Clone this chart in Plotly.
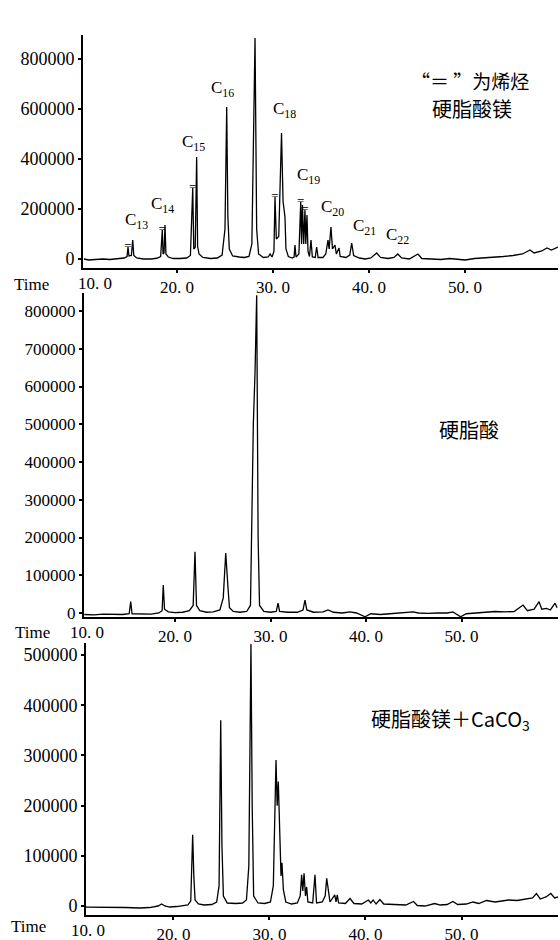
import plotly.graph_objects as go

# ---------------- data ----------------
# Panel 1: 硬脂酸镁 (retention time, min ; abundance)
t1 = [10.3, 10.8, 11.5, 12.3, 13.0, 13.8, 14.5, 14.8, 14.9, 15.0, 15.25, 15.39, 15.5, 15.8,
      16.5, 17.3, 17.9, 18.3, 18.47, 18.55, 18.65, 18.75, 18.85, 19.1, 19.6, 20.3, 21.0, 21.4,
      21.64, 21.75, 21.9, 22.05, 22.15, 22.3, 22.7, 23.5, 24.2, 24.7, 25.0, 25.18, 25.3, 25.45,
      25.8, 26.5, 27.0, 27.5, 27.8, 28.13, 28.3, 28.5, 29.0, 29.5, 29.7, 29.9, 30.1, 30.21,
      30.35, 30.6, 30.89, 31.05, 31.25, 31.35, 31.6, 32.0, 32.2, 32.29, 32.4, 32.7, 32.89,
      32.98, 33.07, 33.2, 33.33, 33.42, 33.54, 33.65, 33.8, 33.96, 34.1, 34.4, 34.55, 34.7,
      35.2, 35.5, 35.73, 35.85, 36.04, 36.2, 36.46, 36.6, 36.88, 37.0, 37.6, 38.0, 38.2, 38.4,
      39.0, 39.6, 40.2, 40.8, 41.2, 42.0, 42.6, 43.0, 43.4, 44.2, 45.1, 45.5, 46.5, 47.5, 48.4,
      49.0, 50.0, 51.0, 52.0, 53.0, 54.0, 55.0, 56.0, 56.77, 57.2, 58.0, 58.54, 59.0, 59.69]
s1 = [0, -4000, -2000, 0, -2000, 0, 4000, 10000, 48000, 12000, 14000, 76000, 14000, 4000,
      0, 0, 3000, 10000, 116000, 20000, 24000, 136000, 20000, 8000, 2000, 2000, 4000, 14000,
      284000, 40000, 46000, 408000, 50000, 20000, 6000, 2000, 4000, 16000, 120000, 608000, 170000, 40000,
      12000, 8000, 6000, 10000, 60000, 884000, 120000, 20000, 6000, 8000, 20000, 8000, 30000, 248000,
      80000, 90000, 504000, 230000, 168000, 40000, 10000, 4000, 8000, 56000, 8000, 20000, 228000,
      60000, 216000, 60000, 196000, 60000, 176000, 30000, 10000, 76000, 8000, 6000, 48000, 6000,
      6000, 20000, 76000, 40000, 128000, 40000, 56000, 20000, 44000, 10000, 6000, 16000, 64000, 14000,
      4000, 0, 4000, 24000, 6000, 2000, 6000, 20000, 4000, 0, 20000, 2000, 0, -2000, 2000,
      0, -4000, 2000, 4000, 6000, 10000, 14000, 20000, 36000, 24000, 32000, 44000, 36000, 48000]
olefin_t1 = [14.9, 18.47, 21.64, 30.21, 32.89, 33.33]
olefin_v1 = [48000, 116000, 284000, 248000, 228000, 196000]
peak_names = ["C<sub>13</sub>", "C<sub>14</sub>", "C<sub>15</sub>", "C<sub>16</sub>", "C<sub>17</sub>",
              "C<sub>18</sub>", "C<sub>19</sub>", "C<sub>20</sub>", "C<sub>21</sub>", "C<sub>22</sub>"]
peak_label_t = [15.83, 18.54, 21.67, 24.69, 28.33, 31.25, 33.65, 36.25, 39.58, 43.02]
peak_label_v = [154000, 216000, 466000, 680000, 946000, 596000, 332000, 204000, 130000, 94000]

# Panel 2: 硬脂酸
t2 = [10.5, 11.5, 12.5, 13.5, 14.5, 15.2, 15.36, 15.5, 16.5, 17.5, 18.3, 18.65, 18.77, 18.9,
      19.3, 20.0, 20.8, 21.5, 21.9, 22.09, 22.25, 22.6, 23.3, 24.0, 24.7, 25.05, 25.31, 25.45,
      25.55, 25.7, 26.1, 26.8, 27.5, 27.9, 28.2, 28.38, 28.55, 28.7, 28.85, 29.3, 30.0, 30.6,
      30.79, 30.95, 31.8, 32.8, 33.4, 33.61, 33.8, 34.5, 35.5, 36.02, 36.6, 37.5, 38.32, 39.0,
      39.9, 40.5, 41.5, 42.5, 43.5, 44.92, 45.5, 46.5, 47.5, 48.5, 49.1, 49.9, 50.5, 51.5, 52.5,
      53.5, 54.5, 55.5, 56.44, 56.9, 57.6, 58.12, 58.4, 58.9, 59.3, 59.79, 60.0]
s2 = [-4000, -5000, -3000, -3000, -4000, -2000, 30000, -2000, -3000, -3000, 0, 6000, 74000, 10000,
      3000, 1000, 2000, 6000, 20000, 162000, 20000, 6000, 2000, 3000, 8000, 40000, 159000, 80000,
      66000, 14000, 4000, 2000, 4000, 20000, 500000, 640000, 842000, 200000, 20000, 4000, 2000, 4000,
      26000, 4000, 2000, 2000, 8000, 34000, 8000, 2000, 3000, 8000, 2000, 0, 3000, 0,
      -10000, -2000, -4000, -2000, 0, 3000, 0, -1000, 0, 0, 3000, -10000, -2000, 0, 2000,
      4000, 3000, 4000, 21000, 6000, 10000, 30000, 10000, 12000, 8000, 26000, 14000]

# Panel 3: 硬脂酸镁 + CaCO3
t3 = [10.8, 12.0, 13.5, 15.0, 16.5, 17.5, 18.4, 18.77, 19.1, 19.6, 20.3, 21.0, 21.5, 21.8,
      22.0, 22.12, 22.25, 22.6, 23.2, 24.0, 24.5, 24.75, 24.92, 25.05, 25.2, 25.6, 26.5, 27.2,
      27.6, 27.85, 28.07, 28.2, 28.35, 28.8, 29.5, 30.1, 30.4, 30.68, 30.8, 30.92, 31.05, 31.2,
      31.3, 31.45, 31.7, 32.3, 32.9, 33.2, 33.35, 33.47, 33.6, 33.75, 33.87, 34.0, 34.5, 34.74,
      34.9, 35.5, 35.8, 35.96, 36.1, 36.3, 36.8, 36.93, 37.06, 37.2, 37.9, 38.39, 38.8, 39.6,
      40.3, 40.55, 40.8, 41.1, 41.5, 41.9, 43.0, 44.2, 45.0, 45.4, 46.2, 47.2, 47.8, 48.5,
      49.1, 49.6, 50.5, 51.2, 51.8, 52.6, 53.5, 54.9, 55.8, 56.8, 57.4, 57.8, 58.2, 58.8,
      59.3, 59.7, 60.05]
s3 = [-2000, -2000, -3000, -3000, -4000, -3000, 0, 4000, 0, -2000, -1000, 0, 2000, 10000,
      142000, 60000, 12000, 4000, 2000, 3000, 8000, 40000, 370000, 120000, 20000, 6000, 5000, 6000,
      12000, 80000, 522000, 200000, 20000, 6000, 5000, 8000, 40000, 291000, 200000, 248000, 140000, 60000,
      86000, 32000, 8000, 4000, 6000, 20000, 62000, 30000, 65000, 20000, 38000, 8000, 6000, 62000,
      6000, 8000, 20000, 55000, 36000, 8000, 22000, 8000, 22000, 6000, 5000, 15000, 5000, 4000,
      12000, 6000, 12000, 4000, 13000, 4000, 3000, 2000, 9000, 1000, 0, 5000, 2000, 3000,
      9000, 3000, 4000, 8000, 5000, 11000, 8000, 12000, 11000, 14000, 16000, 25000, 14000, 18000,
      25000, 16000, 18000]

x_ticks = [20, 30, 40, 50]
x_ticktext = ["20. 0", "30. 0", "40. 0", "50. 0"]
y1_ticks = [0, 200000, 400000, 600000, 800000]
y2_ticks = [0, 100000, 200000, 300000, 400000, 500000, 600000, 700000, 800000]
y3_ticks = [0, 100000, 200000, 300000, 400000, 500000]

# ---------------- figure ----------------
W, H = 560, 940
SERIF = "Liberation Serif"
CJK = "Noto Sans CJK SC"


def px(x):
    return x / W


def py(y):
    return 1 - y / H


fig = go.Figure()
line_style = dict(color="black", width=1.3)
fig.add_trace(go.Scatter(x=t1, y=s1, mode="lines", line=line_style, xaxis="x", yaxis="y",
                         hoverinfo="skip"))
fig.add_trace(go.Scatter(x=olefin_t1, y=olefin_v1, mode="text", text=["="] * len(olefin_t1),
                         textfont=dict(family=SERIF, size=13, color="black"),
                         textposition="middle center", xaxis="x", yaxis="y", hoverinfo="skip"))
fig.add_trace(go.Scatter(x=t2, y=s2, mode="lines", line=line_style, xaxis="x2", yaxis="y2",
                         hoverinfo="skip"))
fig.add_trace(go.Scatter(x=t3, y=s3, mode="lines", line=line_style, xaxis="x3", yaxis="y3",
                         hoverinfo="skip"))

tickfont = dict(family=SERIF, size=17, color="black")
yfont = dict(family=SERIF, size=18, color="black")


def xax(domain, rng, anchor):
    return dict(domain=domain, range=rng, anchor=anchor, tickvals=x_ticks, ticktext=x_ticktext,
                showline=True, linewidth=2, linecolor="black", ticks="outside", ticklen=3,
                tickwidth=1.5, tickcolor="black", showgrid=False, zeroline=False, tickfont=tickfont,
                fixedrange=True, automargin=False)


def yax(domain, rng, anchor, ticks, font):
    return dict(domain=domain, range=rng, anchor=anchor, tickvals=ticks, tickformat="d",
                showline=True, linewidth=2, linecolor="black", ticks="outside", ticklen=3,
                tickwidth=1.5, tickcolor="black", showgrid=False, zeroline=False, tickfont=font,
                fixedrange=True, automargin=False)


fig.update_layout(
    width=W, height=H, margin=dict(l=0, r=0, t=0, b=0, autoexpand=False),
    paper_bgcolor="white", plot_bgcolor="white", showlegend=False,
    xaxis=xax([px(83), px(558)], [10.21, 59.69], "y"),
    yaxis=yax([py(267.7), py(35)], [-34800, 896000], "x", y1_ticks, yfont),
    xaxis2=xax([px(84), px(558)], [10.47, 60.10], "y2"),
    yaxis2=yax([py(617), py(293)], [-10600, 847700], "x2", y2_ticks,
               dict(family=SERIF, size=17, color="black")),
    xaxis3=xax([px(86), px(558)], [10.89, 60.05], "y3"),
    yaxis3=yax([py(915), py(643)], [-17900, 523900], "x3", y3_ticks, yfont),
)

ann = []
# peak labels (panel 1)
for name, t, v in zip(peak_names, peak_label_t, peak_label_v):
    ann.append(dict(x=t, y=v, xref="x", yref="y", text=name, showarrow=False,
                    xanchor="center", yanchor="middle",
                    font=dict(family=SERIF, size=17, color="black")))


def paper_text(x, y, text, font):
    return dict(x=px(x), y=py(y), xref="paper", yref="paper", text=text, showarrow=False,
                xanchor="center", yanchor="middle", font=font)


serif17 = dict(family=SERIF, size=17, color="black")
# "Time" and the leftmost "10. 0" labels
for (tx, ty, lx, ly) in [(31, 284, 95, 283), (32, 632, 87, 632), (28, 926, 88, 930)]:
    ann.append(paper_text(tx, ty, "Time", serif17))
    ann.append(paper_text(lx, ly, "10. 0", serif17))

# Chinese captions
cjk19 = dict(family=CJK, size=19, color="black")
cjk20 = dict(family=CJK, size=20, color="black")
ann.append(paper_text(470, 80, "“＝ ”为烯烃", cjk19))
ann.append(paper_text(472, 108, "硬脂酸镁", cjk20))
ann.append(paper_text(469, 430, "硬脂酸", cjk20))
ann.append(paper_text(450, 719, "硬脂酸镁＋CaCO<sub>3</sub>", cjk20))

fig.update_layout(annotations=ann)
fig.write_html("out.html", post_script="document.body.style.margin='0px';",
               config={"displayModeBar": False})
